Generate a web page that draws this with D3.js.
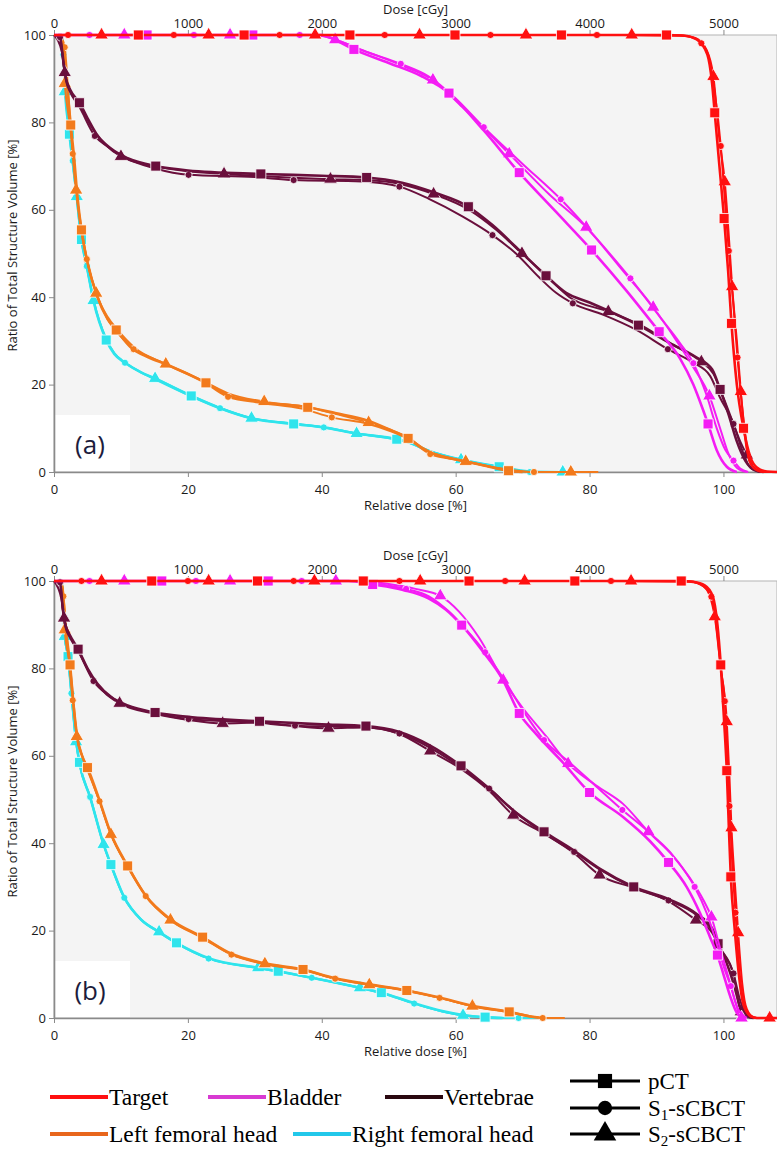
<!DOCTYPE html>
<html><head><meta charset="utf-8">
<script src="https://cdn.jsdelivr.net/npm/d3@7"></script>
<style>body{margin:0;background:#fff}svg{display:block}</style>
</head><body>
<svg id="c" width="777" height="1149"></svg>
<script>
// ---- data (x = relative dose %, y = volume %, third value 1 = marker drawn) ----
const xTicks = [0,20,40,60,80,100];
const yTicks = [0,20,40,60,80,100];
const doseTicks = [0,1000,2000,3000,4000,5000];
const structures = ["Target","Bladder","Vertebrae","Left femoral head","Right femoral head"];
const structColors = ["#ff1010","#f41cf4","#6a0f3c","#f27a1c","#2fe4ec"];
const legendColors = ["#ff1010","#d83ad2","#2a0810","#e8661c","#22c8ea"];
const plans = ["pCT","S1-sCBCT","S2-sCBCT"];
const planMarks = ["square","circle","triangle"];
const panelLabels = ["(a)","(b)"];

// Panel (a)
const aTargetPCT = [[0,100],[12.6,100,1],[28.4,100,1],[44.2,100,1],[59.9,100,1],[75.8,100,1],[91.5,100,1],[94,99.9],[96,99],[97.6,95.5],[98.3,89],[98.7,82.2,1],[99.4,70],[100.1,58,1],[100.7,46],[101.2,34,1],[102,20],[103,10,1],[104,3.5],[105,1],[106.5,0.1],[108,0]];
const aTargetS1 = [[0,100],[2.1,100,1],[17.9,100,1],[33.7,100,1],[49.4,100,1],[65.2,100,1],[81.1,100,1],[93.5,99.9],[95.5,99.4],[96.7,98.1,1],[97.8,95],[98.6,88],[99.6,74.6,1],[100.2,62.5],[100.8,50.6,1],[101.5,38],[102.1,26.2,1],[103,12],[103.9,2.4],[105,0.4],[106.5,0],[108,0]];
const aTargetS2 = [[0,100],[7.1,100,1],[23.1,100,1],[39,100,1],[54.6,100,1],[70.5,100,1],[86.3,100,1],[93.5,99.9],[95.8,99.3],[97.5,96.5],[98.5,90.5,1],[99.4,76],[100.2,66.4,1],[100.8,54],[101.3,42.4,1],[102,30],[102.6,18.4,1],[103.5,5],[104.5,1],[106,0],[108,0]];
const aBladderPCT = [[0,100],[13.9,100,1],[29.7,100,1],[40,100],[42.5,98.5],[44.8,96.7,1],[50,93.6],[55,90.5],[59,86.7,1],[64,78.5],[69.5,68.5,1],[75,59.5],[80.3,50.8,1],[85.5,41.5],[90.4,32.1,1],[93.5,26],[95.5,20],[97,14],[97.7,11,1],[99,5],[100.5,1.2],[102,0]];
const aBladderS1 = [[0,100],[5.3,100,1],[20.9,100,1],[36.7,100,1],[39,100],[42,99],[46,96.5],[51.8,93.4,1],[56,90.5],[60,85.5],[64.2,78.9,1],[70,70.5],[75.7,62.4,1],[81,53.5],[86.1,44.3,1],[90.5,35.5],[93.5,29.5],[95.5,24.9,1],[97.5,17.5],[99,10],[100.3,5],[101.5,2.6,1],[102.5,0.8],[103.7,0]];
const aBladderS2 = [[0,100],[10.5,100,1],[26.3,100,1],[39.5,100],[42,98.9,1],[47,96],[52,93],[56.6,89.7,1],[61,83.5],[68,72.8,1],[74,63.5],[79.5,56,1],[85,46],[89.5,37.7,1],[93,30],[95.5,24],[97.9,17.4,1],[99.5,10],[100.8,4],[102,1],[103.5,0]];
const aVertPCT = [[0,100],[0.9,99.5],[1.4,94],[1.8,90],[2.4,87.5],[3.8,84.5,1],[5,81],[6.5,77],[8.5,74],[11,71.8],[15.2,70,1],[20,69],[30.9,68.2,1],[40,67.8],[46.7,67.4,1],[52,66.2],[56.7,64],[61.9,60.7,1],[65.5,56.5],[69,51.5],[73.5,44.9,1],[76.5,41],[80,38.8],[87.3,33.6,1],[92,29.5],[96,26.2],[98.3,23.5],[99.5,18.9,1],[100.8,13],[102,7],[103.3,2.5],[104.5,0.6],[106,0]];
const aVertS1 = [[0,100],[0.9,99.5,1],[1.4,93.5],[1.8,89.5],[2.4,87],[3.8,83.5],[6.1,76.9,1],[8,74.5],[10.5,72],[15,69.5],[20.1,68,1],[30,67.5],[35.8,66.8,1],[46,66.5],[51.6,65.3,1],[56,62.5],[61,58.5],[65.5,54.2,1],[69,50],[72.5,44.5],[75,41],[77.5,38.6,1],[82,36],[87,32.5],[91.7,28.1,1],[95.5,25],[98,22],[99.5,17],[101.5,11,1],[102.8,5],[104,1],[105.3,0]];
const aVertS2 = [[0,100],[1.2,96],[1.6,91.4,1],[2.2,88],[3.8,84],[6,78],[10,72.2,1],[15,70],[20,68.8],[25.4,68.2,1],[41.3,67,1],[46.7,66.8],[52,65.8],[56.7,63.6,1],[62,60],[66,55.5],[69.9,50,1],[73.5,45],[77,40],[82.8,36.7,1],[88,33.3],[92,29.5],[96.7,25.2,1],[98.5,22.5],[100,17],[101.5,11],[102.5,7],[103.5,3.9,1],[104.5,1],[105.5,0]];
const aLfhPCT = [[0,100],[1.2,99],[1.8,91],[2.5,79.4,1],[3,72],[3.5,63],[4.1,55.4,1],[5,48],[6.5,40],[8,35],[9.3,32.5,1],[11.5,28.5],[14,26.3],[17,24.5],[22.7,20.4,1],[26,17.6],[31,16],[37.9,14.8,1],[42,13.5],[47,11.7],[50,9.8],[52.9,7.7,1],[55,5.5],[56.5,4.3],[58,3.6],[61.5,2.4],[65,1.2],[67.9,0.3,1],[70,0]];
const aLfhS1 = [[0,100],[1.2,99],[1.6,97.2,1],[2.2,85],[2.8,72.8,1],[3.8,58],[4.9,48.7,1],[6.3,41],[8,35],[10,31],[11.9,28.1,1],[14,26.5],[17,24.5],[22,21],[26,17.2,1],[31,15.8],[37,14.5],[41.5,12.5,1],[47,11],[50,9.5],[53,7.5],[56.2,4.1,1],[61,2.6],[66,1],[70,0.2],[71.7,0,1],[80,0]];
const aLfhS2 = [[0,100],[1.2,99],[1.6,88.9,1],[2.5,78],[3.3,64.5,1],[4.1,55.8],[5,48],[6.3,40.9,1],[8,35.5],[9.5,32.5],[12,28.5],[16.7,24.7,1],[22.7,20.5],[26,18],[31.4,16.1,1],[38,14.8],[42,13.3],[47,11.3,1],[50,9.8],[53,7.8],[55.5,5],[58,3.6],[61.5,2.4,1],[66,1],[69,0.2],[72,0],[77.2,0,1],[81.3,0]];
const aRfhPCT = [[0,100],[1.2,99],[1.8,86],[2.3,77.3,1],[2.8,71],[3.4,63],[4.1,53.2,1],[4.9,47],[5.9,39.2],[7.8,30.2,1],[9,27],[10.6,25],[13,22.8],[15.1,21.4],[20.5,17.4,1],[24.8,14.6],[29.5,12.3],[35.8,11,1],[40.3,10.2],[45.2,8.8],[51.2,7.5,1],[53,6.8],[56,4.8],[61,2.8],[66.5,1.2,1],[71,0.1],[72,0]];
const aRfhS1 = [[0,100],[1.2,99],[1.4,95.5,1],[2,84],[2.8,71.2,1],[3.4,62.5],[4.1,53],[4.9,47.1,1],[5.9,39.5],[7.8,30.5],[9,27.2],[10.6,25,1],[13,22.8],[15.1,21.2],[20.5,17.3],[24.8,14.6,1],[29.5,12.3],[35.8,11],[40.3,10.2,1],[45.2,8.8],[51.2,7.4],[53,6.7],[56,4.8],[61,2.7],[66.5,1.1],[71.1,0,1],[73,0]];
const aRfhS2 = [[0,100],[1.2,99],[1.6,87,1],[2.3,77],[2.8,70.5],[3.4,63,1],[4.1,53.5],[4.9,47],[5.9,39.2,1],[7.8,30.4],[9,27.2],[10.6,25.1],[13,22.8],[15.1,21.4,1],[20.5,17.5],[24.8,14.7],[29.5,12.3,1],[35.8,11.1],[40.3,10.3],[45.2,8.8,1],[51.2,7.5],[53,6.8],[56,4.9],[60.8,2.8,1],[66.5,1.2],[71,0.1],[76,0,1],[77,0]];

// Panel (b)
const bTargetPCT = [[0,100],[14.6,100,1],[30.4,100,1],[46.2,100,1],[62,100,1],[77.8,100,1],[93.7,100,1],[95.5,99.8],[97.2,99],[98.4,96.5],[99.1,90],[99.6,80.8,1],[100.1,68],[100.5,56.6,1],[100.8,44],[101.1,32.3,1],[101.7,20],[102.3,10],[103,3],[104,0.5],[105,0],[108,0]];
const bTargetS1 = [[0,100],[4.1,100,1],[20,100,1],[35.8,100,1],[51.6,100,1],[67.4,100,1],[83.2,100,1],[95,99.9],[97,98.8],[98.2,96.4,1],[99,89],[99.6,80],[100.2,72.5,1],[100.6,60],[100.9,48.5,1],[101.3,36],[101.8,24.1,1],[102.5,9],[103.2,2.5],[104.3,0.2],[105.5,0],[108,0]];
const bTargetS2 = [[0,100],[7.1,100,1],[23.1,100,1],[38.9,100,1],[54.7,100,1],[70.3,100,1],[86.2,100,1],[95,99.9],[97.2,98.6],[98.7,91.8,1],[99.6,80],[100.5,67.8,1],[100.9,55],[101.2,43.5,1],[101.7,31],[102.2,19.5,1],[102.8,8],[103.5,2],[104.5,0.2],[105.5,0],[106.9,0,1],[108,0]];
const bBladderPCT = [[0,100],[16.1,100,1],[32,100,1],[44,100],[47.6,99.2,1],[52,98],[56,96],[58.5,93.5],[60.9,89.9,1],[64,84],[67,77.5],[69.5,69.7,1],[72,65],[76,58.5],[80,51.6,1],[85,46],[89,40.5],[91.8,35.6,1],[94.5,30],[96.5,24],[98,18.5],[99.1,14.4,1],[100,10],[101,5],[102,1.2],[103,0]];
const bBladderS1 = [[0,100],[5.3,100,1],[21.2,100,1],[37,100,1],[45,100],[49,99.2],[52.6,98.2,1],[56,96.5],[59,93],[61.5,89],[64.4,83.7,1],[67,78],[70,70.5],[73.2,63.6,1],[77,58.5],[81,53],[84.9,47.6,1],[88.5,43],[92,38],[94.5,33],[95.7,30,1],[97.5,24],[99,17],[100.2,11],[101.1,7.3,1],[102.2,2],[103.5,0]];
const bBladderS2 = [[0,100],[10.5,100,1],[26.3,100,1],[42.1,100,1],[45.5,100],[50,99.3],[54,98.2],[57.7,96.6,1],[60.5,93],[63.5,87],[67.1,77.3,1],[70,71],[73.5,64.5],[76.8,58.2,1],[81,53.2],[85,49],[88.8,42.6,1],[92.5,37],[95,32],[97,27],[98.2,23.1,1],[99.5,16],[100.8,9],[101.8,3.5],[102.7,0,1],[103.5,0]];
const bVertPCT = [[0,100],[0.9,99.7],[1.3,94],[1.7,90],[2.4,87.5],[3.6,84.4,1],[5,80],[6.5,76.5],[8.5,73.5],[11,71.5],[15.1,69.9,1],[20,68.9],[30.7,67.9,1],[40,67.2],[46.6,66.8,1],[51.5,65.5],[56,62.5],[60.8,57.7,1],[65,52.5],[69,47],[73.2,42.6,1],[77.5,38.5],[81.5,34.2],[86.6,30,1],[91.8,27.2],[96,23.8],[98.3,20.5],[99.2,17,1],[100.5,12.5],[101.5,8],[102.5,2.5],[103.5,0.5],[104.5,0]];
const bVertS1 = [[0,100],[0.9,99.7,1],[1.3,93.5],[1.7,89.5],[2.4,87],[3.6,84],[5.9,77.1,1],[8,74],[9.8,72.2],[15,69.8],[20.1,68.4,1],[30,67.6],[36,66.9,1],[46,66.6],[51.6,65.1,1],[56,62],[60.8,57.3],[65,52.5,1],[69,47],[73.2,42.3],[77.7,38,1],[81.5,34],[86.6,29.8],[91.8,26.9,1],[96,23.5],[98.3,20],[99.5,16],[101.5,10.2,1],[102.5,4],[103.5,0.8],[104.5,0]];
const bVertS2 = [[0,100],[1.1,96],[1.5,91.5,1],[2.2,88],[3.6,84.2],[5.9,77.5],[9.8,72,1],[15.1,69.6],[20.1,68.2],[25.2,67.4,1],[30.7,67.6],[36,66.8],[41,66.3,1],[46.6,66.5],[51.6,65],[56.2,61.1,1],[60.8,57],[65,52],[68.6,46.4,1],[73.2,42.2],[77.7,37.7],[81.5,32.7,1],[86.6,29.8],[91.8,26.7],[95.9,22.4,1],[98.3,19.5],[99.5,16],[101.5,10],[102.6,1.4,1],[103.5,0.3],[104.5,0]];
const bLfhPCT = [[0,100],[1.2,99],[1.7,90],[2.4,80.8,1],[2.9,72],[3.5,64],[4.2,60],[5,57.3,1],[6.8,49.8],[8.5,42.2],[11,34.8,1],[13.7,28],[17.4,22.6],[22.2,18.5,1],[26.5,14.7],[31.5,12.5],[37.2,11.1,1],[42,9.1],[47.1,7.7],[52.7,6.3,1],[57.6,4.7],[62.5,2.8],[68,1.4,1],[71,0.4],[73,0]];
const bLfhS1 = [[0,100],[1.2,99],[1.4,96.5,1],[2.1,84],[2.8,72.7,1],[3.5,64],[4.2,60],[5,56.8],[6.8,49.6,1],[8.5,42],[11,34.6],[13.7,27.9,1],[17.4,22.4],[22.2,18.3],[26.5,14.5,1],[31.5,12.3],[37.2,11],[42,9,1],[47.1,7.6],[52.7,6.2],[57.6,4.6,1],[62.5,2.7],[68,1.3],[73,0,1],[76.3,0]];
const bLfhS2 = [[0,100],[1.2,99],[1.6,88.8,1],[2.4,80.5],[2.9,72.5],[3.4,64.4,1],[4.2,60],[5,57],[6.8,49.5],[8.5,42,1],[11,34.8],[13.7,28],[17.4,22.4,1],[22.2,18.5],[26.5,14.6],[31.5,12.4,1],[37.2,11.1],[42,9],[47.1,7.6,1],[52.7,6.3],[57.6,4.6],[62.5,2.7,1],[68,1.4],[72,0.2],[74,0]];
const bRfhPCT = [[0,100],[1.2,99],[1.6,88],[2.1,82.7,1],[2.6,74.5],[3.3,63.5],[3.8,58.5,1],[5.4,50.5],[7.4,39.8],[8.5,35.1,1],[10.5,27.6],[13,22.5],[15.7,19.7],[18.3,17.2,1],[23.1,13.7],[30.5,11.5],[33.5,10.7,1],[38.5,9.2],[45.7,6.9],[48.9,5.8,1],[53.8,3.4],[58,1.6],[61.1,0.7],[64.4,0.2,1],[67,0]];
const bRfhS1 = [[0,100],[1.2,99],[1.6,87.5],[2.1,82.5],[2.6,74.3,1],[3.3,63.3],[3.8,58.3],[5.4,50.6,1],[7.4,39.7],[8.5,35],[10.5,27.5,1],[13,22.5],[15.7,19.6],[18.3,17.1],[23.1,13.6,1],[30.5,11.4],[33.5,10.6],[38.5,9.2,1],[45.7,6.9],[48.9,5.7],[53.8,3.3,1],[58,1.5],[61.1,0.6],[64.4,0.2],[69.4,0,1],[73.1,0]];
const bRfhS2 = [[0,100],[1.2,99],[1.6,87.3,1],[2.1,82.6],[2.6,74.2],[3.3,63.2,1],[3.8,58.4],[5.4,50.5],[7.4,39.7,1],[8.5,35.1],[10.5,27.5],[13,22.6],[15.7,19.7,1],[18.3,17.2],[23.1,13.6],[30.5,11.5,1],[33.5,10.7],[38.5,9.2],[45.7,6.9,1],[48.9,5.8],[53.8,3.3],[58,1.5],[61.1,0.6,1],[64.4,0.2],[68,0]];

// [structure index] -> [pCT, S1, S2]
const panelA = [[aTargetPCT,aTargetS1,aTargetS2],[aBladderPCT,aBladderS1,aBladderS2],[aVertPCT,aVertS1,aVertS2],[aLfhPCT,aLfhS1,aLfhS2],[aRfhPCT,aRfhS1,aRfhS2]];
const panelB = [[bTargetPCT,bTargetS1,bTargetS2],[bBladderPCT,bBladderS1,bBladderS2],[bVertPCT,bVertS1,bVertS2],[bLfhPCT,bLfhS1,bLfhS2],[bRfhPCT,bRfhS1,bRfhS2]];

// ---- drawing ----
const svg = d3.select("#c");
const left = 54, right = 777;
const x = d3.scaleLinear().domain([0,108]).range([left,right]);
const xDose = d3.scaleLinear().domain([0,5400]).range([left,right]);
const sans = "'Open Sans', 'Noto Sans', sans-serif";

const symbolOf = {square:d3.symbolSquare, circle:d3.symbolCircle, triangle:d3.symbolTriangle};
const sizeOf = {square:100, circle:40, triangle:80};

function panel(data, top, bottom, label){
  const y = d3.scaleLinear().domain([0,100]).range([bottom,top]);
  const g = svg.append("g");
  g.append("rect").attr("x",left).attr("y",top).attr("width",right-left).attr("height",bottom-top)
    .attr("fill","#f4f4f4").attr("stroke","#b4b4b4").attr("stroke-width",1);
  g.append("rect").attr("x",left+1).attr("y",bottom-57).attr("width",75).attr("height",56).attr("fill","#ffffff");
  g.append("text").attr("x",left+36).attr("y",bottom-18).attr("text-anchor","middle")
    .attr("font-family",sans).attr("font-size",26).attr("fill","#1c1c3c").text(label);

  // axes
  const ax = g.append("g").attr("transform",`translate(0,${bottom})`)
    .call(d3.axisBottom(x).tickValues(xTicks).tickSize(5).tickSizeOuter(0));
  const ay = g.append("g").attr("transform",`translate(${left},0)`)
    .call(d3.axisLeft(y).tickValues(yTicks).tickSize(5).tickSizeOuter(0));
  const at = g.append("g").attr("transform",`translate(0,${top})`)
    .call(d3.axisTop(xDose).tickValues(doseTicks).tickFormat(d3.format("d")).tickSize(5).tickSizeOuter(0));
  at.select(".domain").remove();
  [ax,ay,at].forEach(a=>{
    a.selectAll(".domain").attr("stroke","#8a8a8a").attr("stroke-width",1.6);
    a.selectAll(".tick line").attr("stroke","#8a8a8a");
    a.selectAll("text").attr("font-family",sans).attr("font-size",13).attr("fill","#1a1a1a");
  });
  ax.selectAll("text").attr("dy","1.05em");
  ay.selectAll("text").attr("x",-8);
  at.selectAll("text").attr("dy","-0.05em").attr("y",-6);

  g.append("text").attr("x",(left+right)/2).attr("y",bottom+38).attr("text-anchor","middle")
    .attr("font-family",sans).attr("font-size",13).attr("fill","#1a1a1a").text("Relative dose [%]");
  g.append("text").attr("x",(left+right)/2).attr("y",top-21).attr("text-anchor","middle")
    .attr("font-family",sans).attr("font-size",13).attr("fill","#1a1a1a").text("Dose [cGy]");
  g.append("text").attr("transform",`translate(17,${(top+bottom)/2-8}) rotate(-90)`).attr("text-anchor","middle")
    .attr("font-family",sans).attr("font-size",13).attr("fill","#1a1a1a").text("Ratio of Total Structure Volume [%]");

  const line = d3.line().x(d=>x(d[0])).y(d=>y(d[1])).curve(d3.curveMonotoneX);
  const clipId = "clip"+label.replace(/\W/g,"");
  svg.append("clipPath").attr("id",clipId).append("rect")
    .attr("x",left-8).attr("y",top-8).attr("width",right-left+8).attr("height",bottom-top+16);
  const cg = g.append("g").attr("clip-path",`url(#${clipId})`);
  // draw order: right femoral, left femoral, vertebrae, bladder, target
  [4,3,2,1,0].forEach(si=>{
    [2,1,0].forEach(pi=>{
      const pts = data[si][pi];
      cg.append("path").datum(pts).attr("d",line).attr("fill","none")
        .attr("stroke",structColors[si]).attr("stroke-width", pi===0?2.6:2.0)
        .attr("stroke-linejoin","round");
      const mk = planMarks[pi];
      cg.selectAll(null).data(pts.filter(d=>d[2]===1)).enter().append("path")
        .attr("d",d3.symbol().type(symbolOf[mk]).size(sizeOf[mk])())
        .attr("transform",d=>`translate(${x(d[0])},${y(d[1])})`)
        .attr("fill",structColors[si]).attr("stroke","#ffffff").attr("stroke-width",0.8);
    });
  });
}

panel(panelA, 35, 472, panelLabels[0]);
panel(panelB, 581, 1018, panelLabels[1]);

// ---- legends ----
const serif = "'Liberation Serif', 'Times New Roman', serif";
const legPos = [[50,1097],[208,1097],[385,1097],[50,1134],[293,1134]];
structures.forEach((s,i)=>{
  const [lx,ly] = legPos[i];
  svg.append("line").attr("x1",lx).attr("x2",lx+58).attr("y1",ly).attr("y2",ly)
    .attr("stroke",legendColors[i]).attr("stroke-width",4);
  svg.append("text").attr("x",lx+59).attr("y",ly+8).attr("font-family",serif)
    .attr("font-size",23.5).attr("fill","#000").text(s);
});
const planY = [1081,1108,1134];
plans.forEach((p,i)=>{
  const ly = planY[i];
  svg.append("line").attr("x1",570).attr("x2",640).attr("y1",ly).attr("y2",ly)
    .attr("stroke","#000").attr("stroke-width",3);
  const mk = planMarks[i];
  svg.append("path").attr("d",d3.symbol().type(symbolOf[mk]).size(mk==="circle"?160:(mk==="square"?200:220))())
    .attr("transform",`translate(605,${ly})`).attr("fill","#000");
  const t = svg.append("text").attr("x",648).attr("y",ly+8).attr("font-family",serif)
    .attr("font-size",23).attr("fill","#000");
  if(i===0){ t.text(p); }
  else {
    t.append("tspan").text("S");
    t.append("tspan").attr("font-size",15).attr("dy",4).text(String(i));
    t.append("tspan").attr("dy",-4).text("-sCBCT");
  }
});
</script>
</body></html>
